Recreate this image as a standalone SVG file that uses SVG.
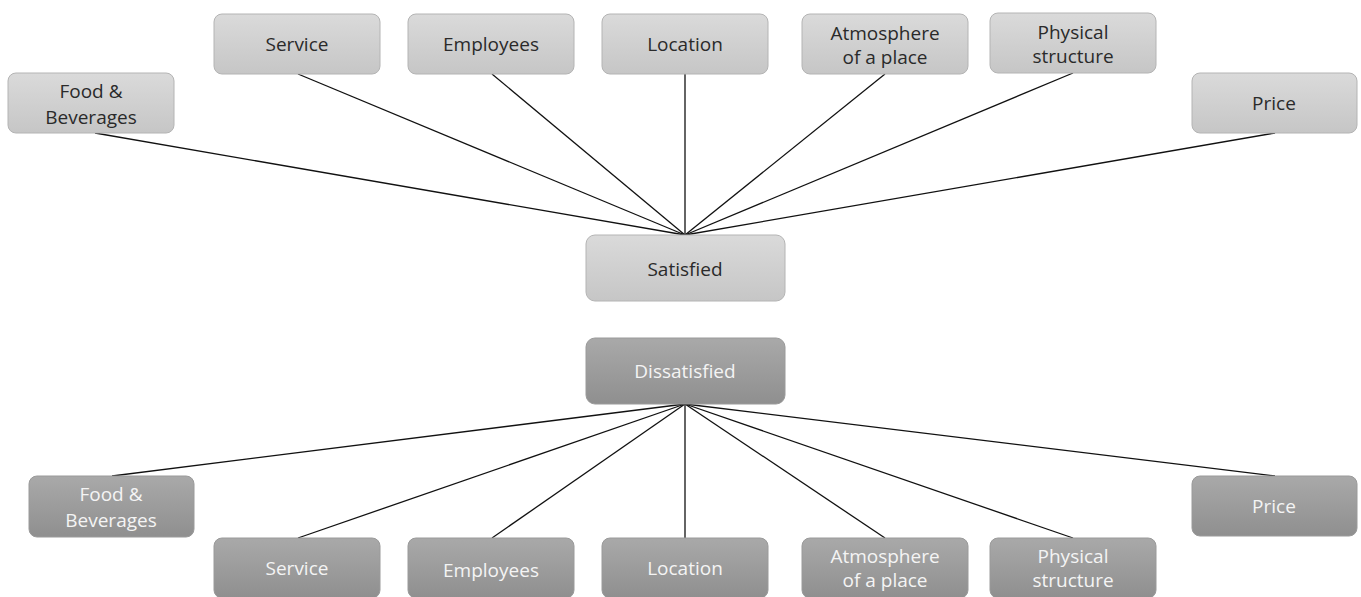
<svg xmlns="http://www.w3.org/2000/svg" width="1361" height="597" viewBox="0 0 1361 597">
<defs>
<linearGradient id="gTop" x1="0" y1="0" x2="0" y2="1"><stop offset="0" stop-color="#dadada"/><stop offset="1" stop-color="#c6c6c6"/></linearGradient>
<linearGradient id="gBot" x1="0" y1="0" x2="0" y2="1"><stop offset="0" stop-color="#a9a9a9"/><stop offset="1" stop-color="#8f8f8f"/></linearGradient>
<style>
.top rect{fill:url(#gTop);stroke:#b4b4b4;stroke-width:1}
.bot rect{fill:url(#gBot);stroke:#9a9a9a;stroke-width:1}
text{font-family:"Open Sans","Noto Sans","Liberation Sans",sans-serif;font-size:19px;text-anchor:middle}
.top text{fill:#2a2a2a}
.bot text{fill:#f4f4f4}
.conn line{stroke:#111;stroke-width:1.3}
</style>
</defs>
<rect width="1361" height="597" fill="#fff"/>
<g class="conn">
<line x1="685" y1="235" x2="95" y2="133"/>
<line x1="685" y1="235" x2="298" y2="74"/>
<line x1="685" y1="235" x2="492" y2="74"/>
<line x1="685" y1="235" x2="685" y2="74"/>
<line x1="685" y1="235" x2="885" y2="74"/>
<line x1="685" y1="235" x2="1073" y2="73"/>
<line x1="685" y1="235" x2="1275" y2="133"/>
<line x1="685" y1="404" x2="112" y2="476"/>
<line x1="685" y1="404" x2="298" y2="538"/>
<line x1="685" y1="404" x2="492" y2="538"/>
<line x1="685" y1="404" x2="685" y2="538"/>
<line x1="685" y1="404" x2="885" y2="538"/>
<line x1="685" y1="404" x2="1073" y2="538"/>
<line x1="685" y1="404" x2="1275" y2="476"/>
</g>
<g id="t-food" class="top"><rect x="8" y="73" width="166" height="60" rx="8"/><text x="91" y="98">Food &amp;</text><text x="91" y="124">Beverages</text></g>
<g id="t-service" class="top"><rect x="214" y="14" width="166" height="60" rx="8"/><text x="297" y="51">Service</text></g>
<g id="t-employees" class="top"><rect x="408" y="14" width="166" height="60" rx="8"/><text x="491" y="51">Employees</text></g>
<g id="t-location" class="top"><rect x="602" y="14" width="166" height="60" rx="8"/><text x="685" y="51">Location</text></g>
<g id="t-atmosphere" class="top"><rect x="802" y="14" width="166" height="60" rx="8"/><text x="885" y="40">Atmosphere</text><text x="885" y="64">of a place</text></g>
<g id="t-physical" class="top"><rect x="990" y="13" width="166" height="60" rx="8"/><text x="1073" y="39">Physical</text><text x="1073" y="63">structure</text></g>
<g id="t-price" class="top"><rect x="1192" y="73" width="165" height="60" rx="8"/><text x="1274" y="110">Price</text></g>
<g id="satisfied" class="top"><rect x="586" y="235" width="199" height="66" rx="9"/><text x="685" y="276">Satisfied</text></g>
<g id="dissatisfied" class="bot"><rect x="586" y="338" width="199" height="66" rx="9"/><text x="685" y="378">Dissatisfied</text></g>
<g id="b-food" class="bot"><rect x="29" y="476" width="165" height="61" rx="8"/><text x="111" y="501">Food &amp;</text><text x="111" y="527">Beverages</text></g>
<g id="b-service" class="bot"><rect x="214" y="538" width="166" height="60" rx="8"/><text x="297" y="575">Service</text></g>
<g id="b-employees" class="bot"><rect x="408" y="538" width="166" height="60" rx="8"/><text x="491" y="577">Employees</text></g>
<g id="b-location" class="bot"><rect x="602" y="538" width="166" height="60" rx="8"/><text x="685" y="575">Location</text></g>
<g id="b-atmosphere" class="bot"><rect x="802" y="538" width="166" height="60" rx="8"/><text x="885" y="563">Atmosphere</text><text x="885" y="587">of a place</text></g>
<g id="b-physical" class="bot"><rect x="990" y="538" width="166" height="60" rx="8"/><text x="1073" y="563">Physical</text><text x="1073" y="587">structure</text></g>
<g id="b-price" class="bot"><rect x="1192" y="476" width="165" height="60" rx="8"/><text x="1274" y="513">Price</text></g>
</svg>
